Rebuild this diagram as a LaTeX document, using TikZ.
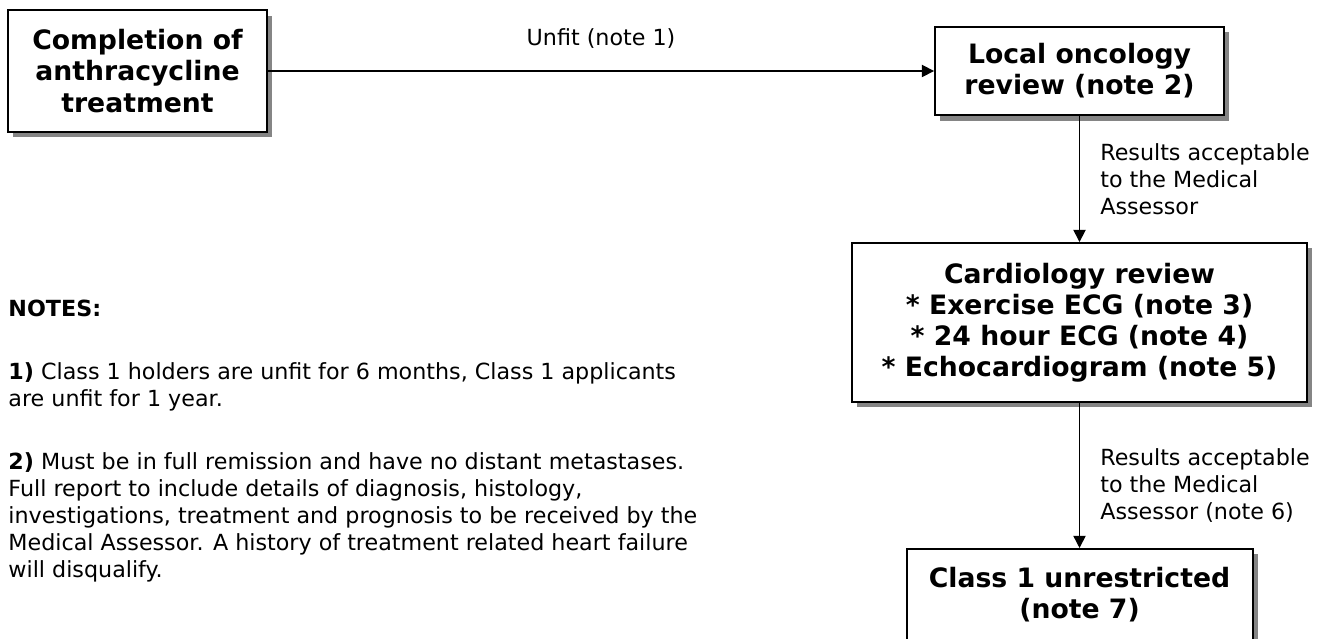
\documentclass[tikz,border=0pt]{standalone}
\usepackage{fontspec}
\setmainfont{DejaVu Sans}
\usetikzlibrary{arrows.meta,shadows}

\tikzset{
    stage/.style = {draw=black, line width=0.9pt, fill=white, align=center, inner sep=0pt,
        font=\fontsize{12}{14}\selectfont\bfseries,
        drop shadow={shadow xshift=2.3pt, shadow yshift=-2.3pt, fill=black!48, opacity=1}},
    flow/.style = {line width=0.7pt, -{Triangle[length=5.5pt, width=5.5pt]}},
    remark/.style = {font=\fontsize{10}{12.15}\selectfont, align=left, inner sep=0pt}
}

\begin{document}
\begin{tikzpicture}[x=0.45pt, y=-0.45pt]
        \useasboundingbox (0, 0) rectangle (1339, 639);
        \clip (0, 0) rectangle (1339, 639);
        % place the stages
        \node[stage, minimum width=116.5pt, minimum height=54.5pt] (completion) at (137.5, 71) {Completion of\\anthracycline\\treatment};
        \node[stage, minimum width=130pt, minimum height=40pt] (oncology) at (1079.5, 71) {Local oncology\\review (note 2)};
        \node[stage, minimum width=204.7pt, minimum height=71.5pt] (cardiology) at (1079.5, 322.5) {Cardiology review\\* Exercise ECG (note 3)\\* 24 hour ECG (note 4)\\* Echocardiogram (note 5)};
        \node[stage, minimum width=155.7pt, minimum height=41.4pt] (unrestricted) at (1079.5, 595) {Class 1 unrestricted\\(note 7)};

        % draw the connectors with their conditions
        \draw[flow] (completion) -- node[remark, above=10pt] (unfit) {Unfit (note 1)} (oncology);
        \draw[flow] (oncology) -- node[remark, right=9pt] (accept-1) {Results acceptable\\to the Medical\\Assessor} (cardiology);
        \draw[flow] (cardiology) -- node[remark, right=9pt, yshift=-4.5pt] (accept-2) {Results acceptable\\to the Medical\\Assessor (note 6)} (unrestricted);

        % add the notes
        \node[remark, anchor=north west] (notes) at (8, 300) {\textbf{NOTES:}\\[16.2pt]
            \textbf{1)} Class 1 holders are unfit for 6 months, Class 1 applicants\\
            are unfit for 1 year.\\[16.2pt]
            \textbf{2)} Must be in full remission and have no distant metastases.\\
            Full report to include details of diagnosis, histology,\\
            investigations, treatment and prognosis to be received by the\\
            Medical Assessor. A history of treatment related heart failure\\
            will disqualify.};
\end{tikzpicture}
\end{document}
